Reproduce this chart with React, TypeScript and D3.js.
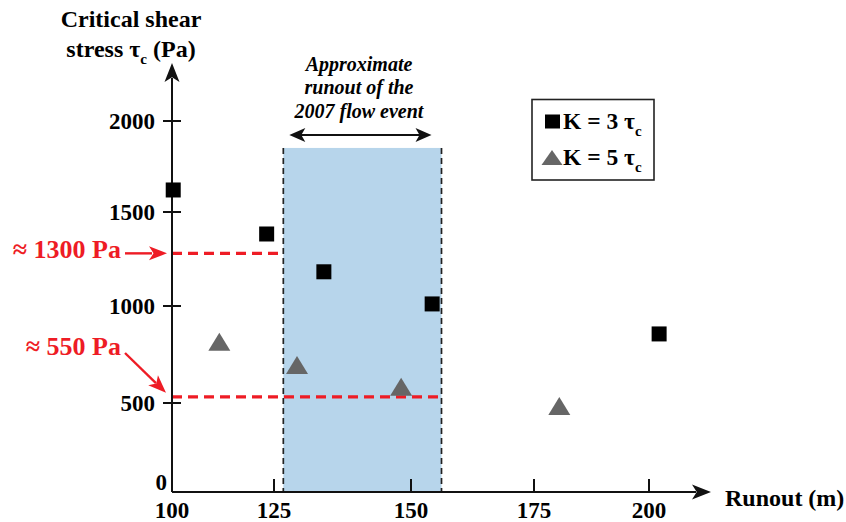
import * as d3 from "d3";
import React, { useEffect, useRef } from "react";

// values
const xTicks = [100, 125, 150, 175, 200];
const yTicks = [500, 1000, 1500, 2000];
const k3Runout = [100.3, 123.2, 134.1, 154.3, 202.2];
const k3Stress = [1621, 1383, 1182, 1011, 856];
const k5Runout = [111.6, 129.2, 148.2, 180.5];
const k5Stress = [816, 696, 584, 483];
const flowRunout = [126.7, 156.2];
const flowTop = 1852;
const thresholdLabels = ["≈ 1300 Pa", "≈ 550 Pa"];
const thresholdValues = [1280, 532];
const thresholdEnds = [126.7, 156.2];
const annotationLines = ["Approximate", "runout of the", "2007 flow event"];

const FONT = "'Liberation Serif', 'Times New Roman', serif";
const RED = "#ee1c25";

export default function App() {
  const ref = useRef<SVGSVGElement | null>(null);

  useEffect(() => {
    const node = ref.current;
    if (!node) return;
    node.innerHTML = "";

    const svg = d3.select(node).style("font-family", FONT);

    // the hand-drawn axes are not evenly spaced, so piecewise scales
    const x = d3.scaleLinear().domain(xTicks).range([172, 274, 411, 534, 649]);
    const y = d3.scaleLinear().domain([0, 500, 1000, 1500, 2000]).range([492, 403, 306, 212, 121]);

    const arrowHead = (tx: number, ty: number, angle: number, len: number, half: number, fill: string) => {
      const a = (angle * Math.PI) / 180;
      const cx = Math.cos(a), sy = Math.sin(a);
      const bx = tx - cx * len, by = ty - sy * len;
      const p = d3.path();
      p.moveTo(tx, ty);
      p.lineTo(bx - sy * half, by + cx * half);
      p.lineTo(bx + cx * len * 0.25, by + sy * len * 0.25);
      p.lineTo(bx + sy * half, by - cx * half);
      p.closePath();
      svg.append("path").attr("d", p.toString()).attr("fill", fill);
    };

    // runout band
    svg.append("rect")
      .attr("x", x(flowRunout[0])).attr("y", y(flowTop))
      .attr("width", x(flowRunout[1]) - x(flowRunout[0]))
      .attr("height", y(0) - y(flowTop))
      .attr("fill", "#b7d5eb");
    for (const r of flowRunout) {
      svg.append("line")
        .attr("x1", x(r)).attr("x2", x(r))
        .attr("y1", y(flowTop)).attr("y2", y(0))
        .attr("stroke", "#222").attr("stroke-width", 1.7)
        .attr("stroke-dasharray", "6,4");
    }

    // threshold lines
    thresholdValues.forEach((v, i) => {
      svg.append("line")
        .attr("x1", x(100)).attr("x2", x(thresholdEnds[i]))
        .attr("y1", y(v)).attr("y2", y(v))
        .attr("stroke", RED).attr("stroke-width", 3.2)
        .attr("stroke-dasharray", "10,6");
    });

    // axes
    svg.append("line")
      .attr("x1", x(100)).attr("x2", x(100))
      .attr("y1", y(0)).attr("y2", 78)
      .attr("stroke", "#111").attr("stroke-width", 2);
    arrowHead(x(100), 63, -90, 19, 7.5, "#111");
    svg.append("line")
      .attr("x1", x(100)).attr("x2", 696)
      .attr("y1", y(0)).attr("y2", y(0))
      .attr("stroke", "#111").attr("stroke-width", 2);
    arrowHead(711, y(0), 0, 19, 7.5, "#111");

    const yAxis = svg.append("g");
    yTicks.forEach(t => {
      yAxis.append("line")
        .attr("x1", x(100) - 9).attr("x2", x(100) + 9)
        .attr("y1", y(t)).attr("y2", y(t))
        .attr("stroke", "#111").attr("stroke-width", 2);
      yAxis.append("text")
        .attr("x", 155).attr("y", y(t)).attr("dy", "0.35em")
        .attr("text-anchor", "end")
        .attr("font-size", 23).attr("font-weight", "bold")
        .text(d3.format("d")(t));
    });
    yAxis.append("text")
      .attr("x", 167).attr("y", y(0) - 10).attr("dy", "0.35em")
      .attr("text-anchor", "end")
      .attr("font-size", 23).attr("font-weight", "bold")
      .text("0");

    const xAxis = svg.append("g");
    xTicks.forEach(t => {
      if (t > 100) {
        xAxis.append("line")
          .attr("x1", x(t)).attr("x2", x(t))
          .attr("y1", y(0)).attr("y2", y(0) - 13)
          .attr("stroke", "#111").attr("stroke-width", 2);
      }
      xAxis.append("text")
        .attr("x", x(t)).attr("y", 518)
        .attr("text-anchor", "middle")
        .attr("font-size", 23).attr("font-weight", "bold")
        .text(t);
    });

    svg.append("text")
      .attr("x", 725).attr("y", 506)
      .attr("font-size", 24).attr("font-weight", "bold")
      .text("Runout (m)");

    // y title
    svg.append("text")
      .attr("x", 131).attr("y", 27)
      .attr("text-anchor", "middle")
      .attr("font-size", 24).attr("font-weight", "bold")
      .text("Critical shear");
    const t2 = svg.append("text")
      .attr("x", 131).attr("y", 57)
      .attr("text-anchor", "middle")
      .attr("font-size", 24).attr("font-weight", "bold");
    t2.append("tspan").text("stress τ");
    t2.append("tspan").attr("font-size", 15).attr("dy", 7).text("c");
    t2.append("tspan").attr("dy", -7).text(" (Pa)");

    // annotation
    annotationLines.forEach((s, i) => {
      svg.append("text")
        .attr("x", 359).attr("y", 71 + i * 23.3)
        .attr("text-anchor", "middle")
        .attr("font-size", 20).attr("font-weight", "bold").attr("font-style", "italic")
        .text(s);
    });
    const arrowY = y(1923);
    const ax0 = x(flowRunout[0]) + 6, ax1 = x(flowRunout[1]) - 10;
    svg.append("line")
      .attr("x1", ax0 + 10).attr("x2", ax1 - 10)
      .attr("y1", arrowY).attr("y2", arrowY)
      .attr("stroke", "#111").attr("stroke-width", 2.2);
    arrowHead(ax0, arrowY, 180, 16, 7, "#111");
    arrowHead(ax1, arrowY, 0, 16, 7, "#111");

    // red labels
    const labelY = [258, 355];
    thresholdLabels.forEach((s, i) => {
      svg.append("text")
        .attr("x", 121).attr("y", labelY[i])
        .attr("text-anchor", "end")
        .attr("font-size", 26).attr("font-weight", "bold")
        .attr("fill", RED)
        .text(s);
    });
    svg.append("line")
      .attr("x1", 125).attr("x2", 152)
      .attr("y1", y(thresholdValues[0])).attr("y2", y(thresholdValues[0]))
      .attr("stroke", RED).attr("stroke-width", 2.4);
    arrowHead(167, y(thresholdValues[0]), 0, 18, 7, RED);
    const tip = [166, y(thresholdValues[1]) - 4];
    const ang = Math.atan2(tip[1] - 353, tip[0] - 125) * 180 / Math.PI;
    svg.append("line")
      .attr("x1", 125).attr("y1", 353)
      .attr("x2", tip[0] - 14 * Math.cos(ang * Math.PI / 180))
      .attr("y2", tip[1] - 14 * Math.sin(ang * Math.PI / 180))
      .attr("stroke", RED).attr("stroke-width", 2.4);
    arrowHead(tip[0], tip[1], ang, 18, 7, RED);

    // markers
    svg.append("g").selectAll("rect")
      .data(d3.zip(k3Runout, k3Stress))
      .join("rect")
      .attr("x", d => x(d[0]) - 7.5).attr("y", d => y(d[1]) - 7.5)
      .attr("width", 15).attr("height", 15)
      .attr("fill", "#000");
    const tri = "M0,-9L11,9L-11,9Z";
    svg.append("g").selectAll("path")
      .data(d3.zip(k5Runout, k5Stress))
      .join("path")
      .attr("d", tri)
      .attr("transform", d => `translate(${x(d[0])},${y(d[1])})`)
      .attr("fill", "#666");

    // legend
    svg.append("rect")
      .attr("x", 532).attr("y", 99.5).attr("width", 122).attr("height", 80.5)
      .attr("fill", "#fff").attr("stroke", "#222").attr("stroke-width", 1.6);
    svg.append("rect")
      .attr("x", 545).attr("y", 114.5).attr("width", 15).attr("height", 14)
      .attr("fill", "#000");
    svg.append("path")
      .attr("d", "M0,-7.5L10.5,7.5L-10.5,7.5Z")
      .attr("transform", "translate(552,157.5)")
      .attr("fill", "#666");
    ["K = 3 τ", "K = 5 τ"].forEach((s, i) => {
      const t = svg.append("text")
        .attr("x", 563).attr("y", 128.5 + i * 36)
        .attr("font-size", 23.5).attr("font-weight", "bold");
      t.append("tspan").text(s);
      t.append("tspan").attr("font-size", 15).attr("dy", 7).text("c");
    });
  }, []);

  return (
    <svg
      ref={ref}
      width={846}
      height={522}
      style={{ position: "absolute", left: 0, top: 0, background: "#fff" }}
    />
  );
}
